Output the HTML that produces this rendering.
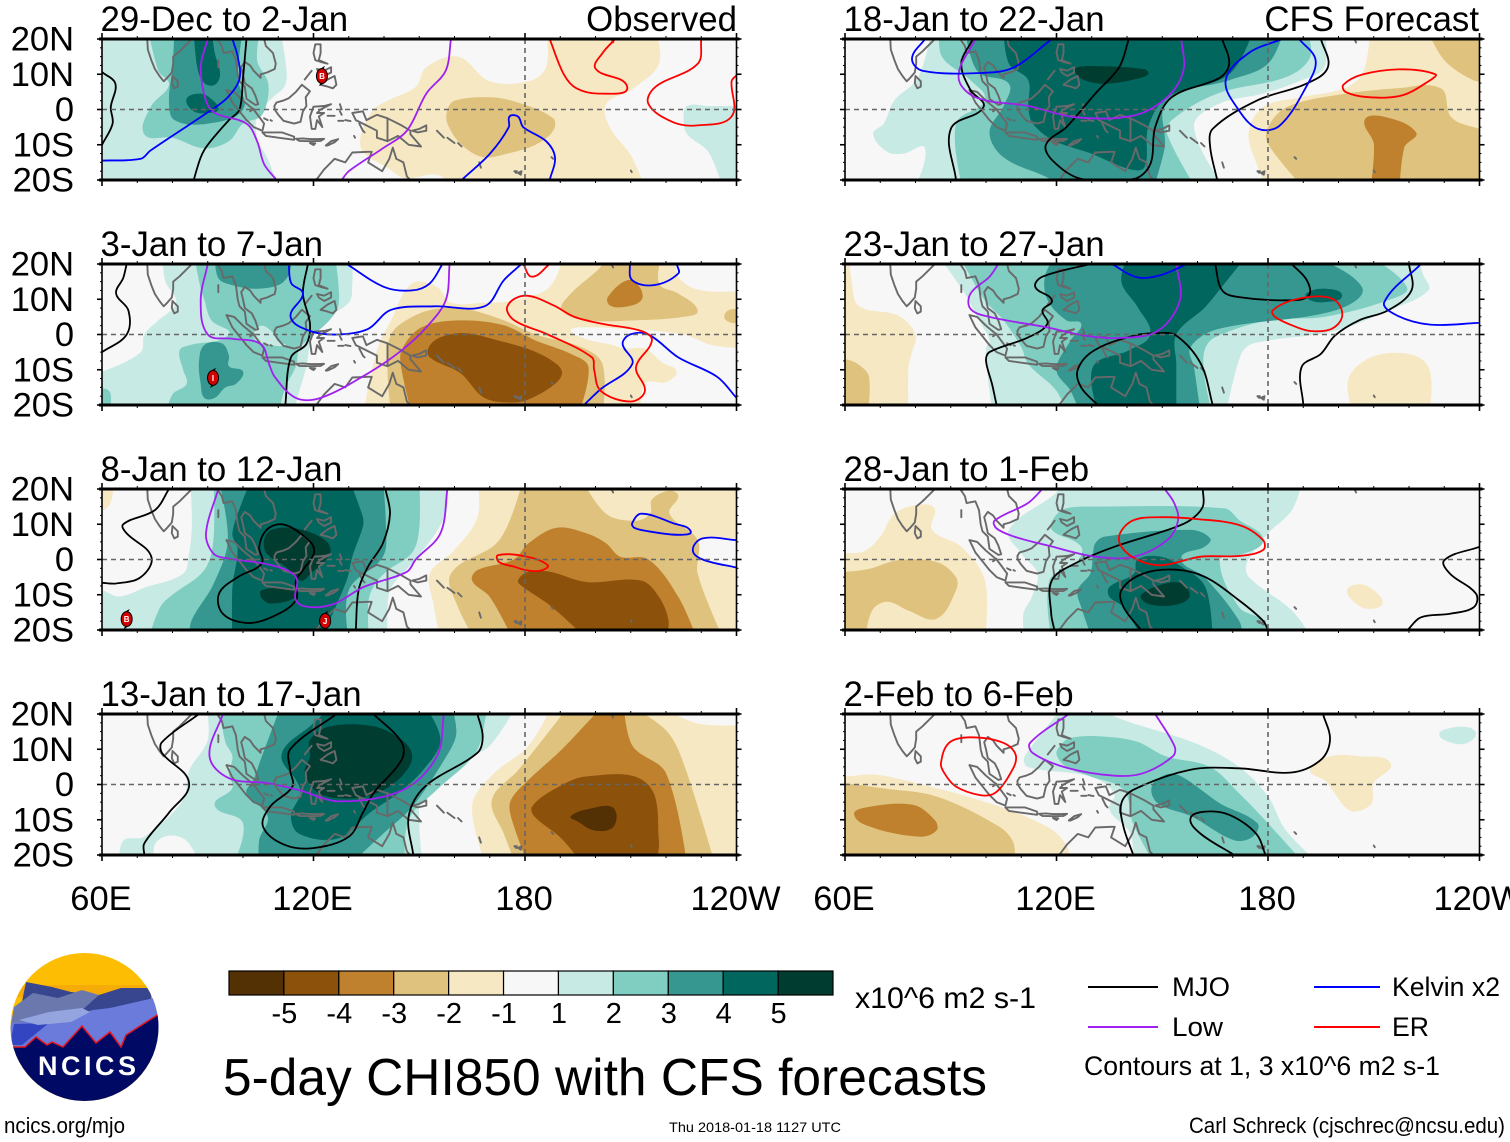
<!DOCTYPE html>
<html><head><meta charset="utf-8"><title>5-day CHI850 with CFS forecasts</title>
<style>html,body{margin:0;padding:0;background:#fff}svg{display:block}text{font-family:"Liberation Sans",sans-serif;fill:#000}</style>
</head><body>
<svg id="chart" xmlns="http://www.w3.org/2000/svg" width="1510" height="1142" viewBox="0 0 1510 1142">
<rect width="1510" height="1142" fill="#fff"/>
<g id="panels"></g>
<g>
<clipPath id="logoClip"><circle cx="84.5" cy="1027" r="74"/></clipPath>
<g clip-path="url(#logoClip)">
<rect x="10" y="953" width="150" height="150" fill="#fdbd02"/>
<rect x="10" y="985" width="150" height="12" fill="#f6ac08"/>
<path d="M10 1060L26 982L52 987L71 992L99 995L121 988L150 988L160 1060Z" fill="#38458f"/>
<path d="M10 1030L14 1007L33 993L58 998L82 990L99 995L80 1012L30 1040Z" fill="#6b78ae"/>
<path d="M10 1045L11 1023L60 1020L93 1010L110 1008L154 998L160 1013V1060H10Z" fill="#6a7bdc"/>
<path d="M14 1024L49 1023L22 1045H10Z" fill="#3345c0"/>
<path d="M19 1020L49 1012L82 1008L90 1012L71 1022L38 1025Z" fill="#93a4de"/>
<path d="M8 1047L25 1047L36 1037L47 1045L52 1042L63 1047L82 1026L96 1043L110 1032L121 1047L126 1035L162 1012V1104H8Z" fill="#000a64" stroke="#e8141c" stroke-width="1.5"/>
<text x="38" y="1075" font-size="27" font-weight="bold" textLength="98" lengthAdjust="spacing" style="fill:#fff">NCICS</text>
</g></g>
<g id="colorbar"></g>
<text x="855" y="1008" font-size="30" textLength="181" lengthAdjust="spacingAndGlyphs">x10^6 m2 s-1</text>
<g>
<line x1="1088" x2="1158" y1="987" y2="987" stroke="#000" stroke-width="2"/>
<text x="1172" y="996" font-size="27" textLength="58" lengthAdjust="spacingAndGlyphs">MJO</text>
<line x1="1088" x2="1158" y1="1027" y2="1027" stroke="#a020f0" stroke-width="2"/>
<text x="1172" y="1036" font-size="27" textLength="51" lengthAdjust="spacingAndGlyphs">Low</text>
<line x1="1314" x2="1380" y1="987" y2="987" stroke="#0000ff" stroke-width="2"/>
<text x="1392" y="996" font-size="27" textLength="108" lengthAdjust="spacingAndGlyphs">Kelvin x2</text>
<line x1="1314" x2="1380" y1="1027" y2="1027" stroke="#ff0000" stroke-width="2"/>
<text x="1392" y="1036" font-size="27" textLength="37" lengthAdjust="spacingAndGlyphs">ER</text>
<text x="1084" y="1075" font-size="27" textLength="356" lengthAdjust="spacingAndGlyphs">Contours at 1, 3 x10^6 m2 s-1</text>
</g>
<text x="223" y="1095" font-size="51.5" textLength="764" lengthAdjust="spacingAndGlyphs">5-day CHI850 with CFS forecasts</text>
<text x="4" y="1133" font-size="22" textLength="121" lengthAdjust="spacingAndGlyphs">ncics.org/mjo</text>
<text x="669" y="1132" font-size="14" textLength="172" lengthAdjust="spacingAndGlyphs">Thu 2018-01-18 1127 UTC</text>
<text x="1189" y="1133" font-size="22" textLength="316" lengthAdjust="spacingAndGlyphs">Carl Schreck (cjschrec@ncsu.edu)</text>
</svg>
<script>
const panelTitles=["29-Dec to 2-Jan","3-Jan to 7-Jan","8-Jan to 12-Jan","13-Jan to 17-Jan","18-Jan to 22-Jan","23-Jan to 27-Jan","28-Jan to 1-Feb","2-Feb to 6-Feb"];
const xTickLabels=["60E","120E","180","120W"];
const xTickValues=[60,120,180,240];
const yTickLabels=["20N","10N","0","10S","20S"];
const yTickValues=[20,10,0,-10,-20];
const barLabels=["-5","-4","-3","-2","-1","1","2","3","4","5"];
const levelKeys=[-5,-4,-3,-2,-1,0,1,2,3,4,5];
const levelColors=["#543005","#8c510a","#bf812d","#dfc27d","#f6e8c3","#f7f7f7","#c7eae5","#80cdc1","#35978f","#01665e","#003c30"];

// shaded polygons: [level, [lon,lat,lon,lat,...]]
const p1Shade=[
[1,[55,25,110,25,112,14,112,7,108,3,104,-2,104,-8,107,-14,110,-22,55,-22]],
[1,[225,-3,226,1,232,1,243,1,243,-22,236,-22,232,-12,226,-7]],
[2,[73,23,76,11,79,7,74,1,72,-7,80,-8,89,-11,96,-9,100,-4,105,-2,107,3,107,8,104,14,105,23]],
[3,[80.6,23,80,12,79,2.5,80.6,-3,90,-4,100,0,98.5,9,100,23]],
[4,[86,23,87,12,89,7.5,92,7,93.5,10,92,16,91,23]],
[4,[84,3,88,4.5,91,3,93,0,90,-1,86,-0.5]],
[-1,[133.5,-7,134,-12,141,-16.5,146,-19.5,155,-18.5,160,-22,214,-22,210,-13,204,-5,203,1.6,210,5.5,218,13,217,23,186,23,186,12,181,8,170,8,161,15,152,12,149,6.4,141,2.5,137,0]],
[-2,[158,0,160,2.5,170,3.5,178,2,188,-2.5,188,-6,183,-10,175,-12.5,168,-13.5,162,-10,158,-4]]];
const p1MJO=[[60,10.6,63.8,7.3,62.5,0.7,63,-4,60,-10],[101,20,100,9,99,0,96,-3,90,-10,88,-13.6,86,-20]];
const p1Low=[[90,20,88,12,89.5,2.5,92,-1,101,-4,104,-9,106,-15.5,109.5,-20],[159,20,157.5,11,152,4.5,146.5,-6,139.7,-11,130,-17.5,128,-20]];
const p1Kelvin=[[60,-14.5,71,-14,73.7,-11.7,90,-0.8,95.7,3.5,99,8.7,98.5,15,97,20],[162,-20,170,-12.6,175.4,-5,175.6,-2,178,-2,179.5,-5,186,-9,188.5,-13.6,187,-20]];
const p1ER=[[187,20,191,10,194.6,6,201.5,4.5,209,6.4,200,11.6,202,16,205.6,20],[230,20,229,13,217,6.4,215,1.6,222,-3.6,229,-4.5,238.6,-2,238.6,8,240,9.7]];

const p2Shade=[
[1,[77,23,78,15,81,9,76,4,72,0,71,-5,60,-10.5,55,-11,55,-23,114,-23,116,-16,118,-9,119,-3,121,3,130,9,131,14,131,23]],
[2,[86,23,88,13,89,10,91,4,96,0,85,-3,82,-4.5,83,-10,84,-14,80,-17,78,-23,110,-23,112,-15,115,-9,116,-4,119,-1,124.5,4,127,8,127,15,126,23]],
[2,[59,-16,62,-16,62.5,-20,62,-23,59,-23]],
[1,[103,0,105,2.5,108,1,110,-2,112,-3,108,-3,104,-2]],
[3,[92,23,93,16,97,14,103,13,110,14,113,17,114,23]],
[3,[89,-3,94,-2.5,96,-6,96,-9,100,-10.5,98,-14,95,-15,92,-18,89,-18,88,-14,87.5,-8]],
[-1,[134,-23,138,-4.5,142,4,148,14.5,155,13.5,159,9,168,9,177,9.7,187,13.5,191,23,223,23,223.5,16.4,230,12.5,243,12.5,243,-4,233,-3,225,0,210,1.5,195,2,193,1,198,-1.5,205,-3,208,-4,214,-4,219,-8,223,-10.5,220,-13.5,214,-14,213,-23]],
[-2,[142,-23,141,-10,142,0,148,5,155,7.3,163,7.3,174,4,183,0,196,-3.6,202,-8.4,202,-23]],
[-2,[190.5,6.8,193,11.6,201.5,19.2,203,23,219,23,218,14.5,223.5,11.6,229,6.8,225,5,211,4,198.7,4]],
[-2,[236.5,5,238,7,243,7,243,3,238,3.5]],
[-3,[145,-4.5,150.6,2,161.7,4,174,2.6,183,-1.7,193,-5.5,198,-9.3,195,-23,148,-23,145,-10]],
[-3,[203.5,10.6,209,15.4,212.5,13.5,213,9.7,208,7.8,204,8.3]],
[-4,[152.7,-3.6,156,-0.8,163,0.4,172.4,-1.7,182,-4.5,189,-8.4,190.5,-11,188.5,-14,182,-18,177,-19.3,168.5,-18,161.7,-11,153,-6.5]]];
const p2MJO=[[67,20,66,16,64,11.6,67.5,6.8,67,0,60,-5],[118.4,20,117,11.6,119,3,118,-2.7,113.6,-6.5,112,-20]];
const p2Low=[[90,20,88,9.7,90,0,97,-1.2,105,-2.7,107.4,-8.4,109,-12,115,-18,122,-18,135.5,-11,145,-4.5,152,2,157.5,9.7,158.6,20]];
const p2Kelvin=[[113,19.5,113.7,14.5,117,11.6,113.5,5,119,1,127,0,135.5,1.6,142,7,154.5,8,168.5,8,174,15.4,179,20],[129.4,20,140,13.5,148,12.5,153,14.5,156.6,20],[209.7,20,210.4,15.4,216.6,14,223.5,17.3,223,20],[196.7,-20,201.5,-15.5,210.4,-8.4,207.7,-2.7,209.8,0,215,0,223.5,-6.5,234.5,-12,240,-18]];
const p2ER=[[179.5,20,182,16.4,187,20],[175,8,180,11,188,8.3,194,5,202,3,213,1,216,-1.7,211.5,-9.3,214,-16,210,-19,201.5,-16,199.6,-10,199,-6.5,186.5,0,177,4,175,8]];

const p3Shade=[
[-1,[59,21,63,21,60,14]],
[1,[85,23,85.5,10,84.7,1.7,83,-4,72,-8,65,-10.5,60,-8.7,55,-8,55,-23,141,-23,141,-14,142,-8,148,-1,155,8,158,15,158,23]],
[2,[91.6,23,91.6,5.5,89,-3,80,-10,76.5,-13.5,73,-23,136,-23,135.5,-18,136,-10,140,-4,148,2,150,9,150,23]],
[3,[93,23,95.7,5.5,91.6,-7,85.4,-17.3,84.7,-23,130,-23,130,-8.7,139.7,0.8,140.5,10,139.7,23]],
[4,[102.6,23,100,17,97,7.4,98.5,2.7,97,-7.8,97,-23,122,-23,129.4,-6,131,0.8,134,9.3,134,12,130,23]],
[5,[108,8.4,115,8.8,123.3,5.5,124.7,1.7,119.2,-4,116.3,-6,112,-2,106.7,1.7,106,5.5]],
[5,[105.3,-8.7,113.6,-8.3,115,-10.6,108,-12.5,105.3,-11]],
[-1,[166.5,23,166.5,12,160,2.7,153,-4,154,-12.5,156,-23,243,-23,243,23]],
[0,[227.6,2.7,230,5.7,243,5.7,243,-2.5,230,0]],
[-2,[179.5,23,172.7,5.5,159,-4,161,-13.5,166,-23,236.5,-23,229,-4,229,5.5,221,13,223.5,18,221,19.5,216,17,215.5,13,211.3,11,203,13,196,23]],
[-3,[189,9,181,4.6,176.8,0,166.5,-3,165,-6,170,-10.6,176.8,-23,229,-23,223.5,-10.6,215,0,207,0.8,203,4.6,197.5,7.4]],
[-4,[181,-3.5,187,-3.5,197.5,-6.4,213,-6,218,-10.6,220.7,-17.3,220,-23,198,-23,187.7,-13.5,179.5,-7.8,178,-6]]];
const p3MJO=[[79,20,75,14,66,10,67,7.4,74,0.8,71,-5,64,-6.8,60,-6.6],[104.6,3.6,106.7,8.4,111,10,116.3,7.4,120.2,2.7,117,-3,115,-6,115,-11.6,108,-16.4,101,-18,94.3,-15.4,93.2,-9.7,98.5,-5,105.3,-1.1,104.6,3.6],[140.4,20,141.7,13,139.7,4.6,135.5,-2,132.8,-8.7,132,-20]];
const p3Low=[[93,20,89.5,7.4,91.6,1.7,95.7,0.3,108,-1.6,115,-5,115,-11.6,119,-13.5,126,-12.5,134.2,-7.8,146.5,-3.5,149,0,156,7.4,158,20]];
const p3Kelvin=[[210.4,10.3,213,13,222,10.3,227,8,223.5,7,215,8,211,9,210.4,10.3],[240,5.5,230.4,6,227.6,2.7,230.4,0,240,-2.3]];
const p3ER=[[172.3,1.2,179.5,1,186.4,-1.6,184.3,-3.2,180.2,-3,176.8,-2,172.6,-0.7,172.3,1.2]];

const p4Shade=[
[1,[89.5,23,90,12.7,84.7,4,83,-4.4,72,-14.8,66,-16,65,-23,151,-23,150,-11,151,-2.5,163,7,170,11,178,23]],
[0,[75,-23,75,-17,79,-14.5,84,-16,88,-23]],
[2,[93,23,95,12,97,8,96,3,97,-1,92,-6,100,-11,97,-23,146,-23,147,-10,155,-1.5,166,9,169,20,169,23]],
[3,[111,23,105,7,103,1.3,101,-2.5,107,-9,104.6,-15.8,104.6,-23,130,-23,139.7,-14,148,-6.3,157.7,8,160.5,14.5,159,23]],
[4,[112.2,11,119,16.5,126,23,151,23,156,12.7,151,4,144,-2.5,136,-8,127,-15.3,116,-14,113.6,-9,116.3,-2.5,115,1.3,111,7]],
[5,[119,12.7,124.7,16.5,137,16.5,145,12.7,148,8,145,2.3,138,-2.5,130,-4,121.5,-2.5,117.5,3.2,119,8]],
[-1,[169,-23,165,-6,171,3,181,11,188,23,217,23,229,17.3,243,17,243,-23]],
[-2,[170.6,-4.4,178,4,186,14,193,23,208.6,23,220,15.4,225,6,234,-23,177.5,-23,174,-14]],
[-3,[176,-4.4,181,1.3,190.5,10,199,19,203,23,208,23,210.5,11,220,3.2,226,-23,181,-23,176,-9]],
[-4,[182,-6.3,188,-1.5,197.5,2.3,214.5,0.4,218,-16,217,-23,196.7,-23,190,-15,182.6,-9]],
[-5,[193,-9,198.7,-6.8,204.5,-6.3,206,-9,204.5,-12.5,199.5,-13,195,-10.5]]];
const p4MJO=[[87.5,20,77,12,77,9,84.7,0.4,79,-8,72,-16.7,72,-20],[126.5,20,113.4,10,113.4,4,114,-0.6,107.7,-6.3,105.7,-12,112,-17.2,120.2,-18,130,-14.8,134,-8,137,-2.5,145,7,145,12,137,20],[166.5,20,168,13.7,166.5,9,151.6,-0.6,147,-9,148.3,-20]];
const p4Low=[[94.3,20,90.5,8,96,1.8,107,0.4,115.5,-1.5,127.7,-4.8,145.5,-1.5,155,8,157,20]];
const p4Kelvin=[];
const p4ER=[];

const p5Shade=[
[1,[84.7,23,80.7,9,74,2.6,71,-4,68,-7,72,-12,76.6,-12.5,82.7,-11,79.3,-23,168.4,-23,159,-5,166,1.6,178.5,4.5,189.5,8.3,196,12,196,23]],
[2,[86.8,23,87.5,15,95.6,8.3,99.7,2.6,91.5,-4,93.6,-23,160,-23,151.4,-7,152.7,-3,165.6,4.5,185.4,9.3,192,15,190.8,23]],
[3,[94,23,97.7,10.7,106.5,7.3,105,1,101,-6.5,105,-13.6,117.4,-19.3,122.8,-23,147.3,-23,150.7,-10.7,151.4,2.6,169,8.3,180,13,184.7,23]],
[4,[105,23,106.5,13,112,8.3,112,0.7,113.3,-4,119,-8.7,129.6,-12.4,141,-17,145,-16.3,146,-5,151.4,3.5,169,10,176,23]],
[5,[125.5,11.8,131,12.3,145,11.4,146,10,142,8.5,133.7,7.3,128,8.3,125.5,10.2]],
[-1,[209,23,207,10.7,201.7,6,189.5,3.5,178.6,0.7,174.5,-6.7,177,-16,180,-23,243,-23,243,23]],
[-2,[225,23,230,14,238.3,8.3,243,8,243,23]],
[-2,[180,-5,185.4,0.7,198.8,4,216.6,6,229,6,232,-2.2,240,-5.5,243,-6,243,-23,190.8,-23,180,-9.8]],
[-3,[207.4,-3,212.6,-2,222,-6.5,218.7,-10.7,217.3,-23,209,-23,210,-9.8]]];
const p5MJO=[[96.3,20,93,13,95.6,5.5,99.3,0.7,90,-5.5,91.5,-20],[140.5,20,137.8,12,131,4.5,122.8,-5,117,-10,119,-14.6,127,-19.7,142,-19.7,146.6,-15.5,148,-5,152.7,3.5,166.3,9,169,13,167,20],[195,20,197,12,190.8,7.3,177,2.6,164.3,-5.5,163.6,-10.7,165.6,-20]];
const p5Low=[[97,20,92.2,9.3,97,3.5,112,1,125.5,-2.2,142,-1.7,151.4,3.5,156,11,155.4,20]];
const p5Kelvin=[[82.7,20,79,14.5,82,11,99.7,10.4,108,12,118.7,20],[184,20,174.5,16,168,8.3,171.8,-0.3,177.2,-5.5,183.3,-4.6,190.8,6.4,193.5,14,188.8,20]];
const p5ER=[[201.4,7,207,10,218,11.4,227.5,10,226,8.3,218,4,208.5,3.5,202,5,201.4,7]];

const p6Shade=[
[-1,[55,23,61,23,62,14.5,64,8,75,5.4,80,0,79,-5,78,-9.3,78,-23,55,-23]],
[-2,[55,-7,60,-7,63.7,-8.4,66.8,-12,66.4,-23,55,-23]],
[-1,[203,-12,212.6,-5.5,225,-8.4,225.5,-23,204.4,-23]],
[1,[86,23,94,11.6,98,4,101,-1.7,100,-4,100.5,-12,102,-23,168,-23,172.4,-5.5,176,-2.5,199,1,214,6.8,225.5,12.5,224,17,222,23]],
[2,[92,23,99.7,9.7,105,4,110,-3.6,112,-8.4,120,-16,123,-23,164.3,-23,162,-12,162,-4.5,165,-0.8,180,4,196,5,214,9.7,219.4,13.5,207,23]],
[3,[120,23,116.7,16.4,117.5,9.7,122.8,4,127,3,124,-1.7,120,-10,124,-16,127,-23,161,-23,159,-9.3,158,-3.6,166,1.6,199,6.8,206.6,13.5,189.5,23]],
[4,[140.5,23,138.4,15,143,7.8,146.6,0,140.5,-4.5,130.3,-9.3,132.3,-23,154,-23,154,-8.4,154,0,162.2,7.8,167.7,14.5,174.5,23]],
[4,[190.8,11.6,196.2,13,201,11,196,9.2,192,9.7]]];
const p6MJO=[[129.6,20,116,16.4,114,13.5,118.7,9.7,116,6.8,117.4,3,112,-0.8,101,-5,100,-7.4,101.7,-14,103,-20],[131.7,-20,127,-15,126,-10,130.7,-4.5,142,-0.3,149,0.4,154,-0.3,161,-8.4,164.3,-20],[165,20,167,12.5,171.8,10.6,185.4,9.7,191.5,11,191,15.4,186.7,20],[220,20,220.7,12.5,214,6.8,205.8,4,199,-0.3,195,-5.5,189.5,-9.3,190,-20]];
const p6Low=[[103.5,20,101,16.4,95.6,11.6,95.6,7.3,101,5,117.4,2,128,-0.3,137.8,-1,148.7,1,155,9.7,154,20]];
const p6Kelvin=[[135.7,20,143,16.2,150,17,157,20],[223.4,20,213,9.2,216.6,5.4,226,2.8,239.8,3.3]];
const p6ER=[[181.3,6.8,186.8,9.7,195,10.8,199.6,9.2,201,5,198,1.6,192,1,186.8,2.6,182,5,181.3,6.8]];

const p7Shade=[
[-1,[55,2.2,65,2.2,70,6.5,74,13,80.7,15.5,85.4,14.5,84.7,8.4,93,3.6,99.7,-5.9,99.7,-23,55,-23]],
[-2,[55,-3.5,60,-3.5,67,-2.6,75,-0.2,86,-0.7,91.5,-5,91.5,-8.7,86,-16.8,78,-14.5,72,-12,67.7,-14.5,65.7,-23,55,-23]],
[-1,[202.4,-8.7,206,-7,210,-8.7,212.5,-12.5,208.6,-14,205,-12.5]],
[1,[122,23,120,19,106.5,8.4,110,1.7,114.6,-4,113,-10.6,110.6,-15.4,111,-23,193,-23,186.8,-14.5,174.6,-5,174,-1,180,7.4,186.8,14,190,23]],
[2,[122.8,14.5,131,15,167.7,14.5,171.8,11.2,178.6,5.5,171.8,1.2,166.3,-0.2,171.8,-13.5,178.6,-17.4,180,-23,118.7,-23,118,-5.9,125.5,-1,127,3.6,118.7,8.4,119.4,12]],
[3,[131,4.6,133.7,6.5,158,8.4,163.6,6,162,3.6,155.4,0.3,162,-5,171.8,-17.4,173,-23,130.3,-23,127,-13.5,126,-8.7,129.6,-4,130.3,0.8]],
[4,[135,-7.8,142,-4,143,0,149.7,0.8,155.4,-2,162.2,-7.8,164.3,-23,144.6,-23,139,-13.5,135,-10.6]],
[5,[144,-10,153,-6.4,156.8,-7.8,157.5,-11,153,-13,146,-12.6]]];
const p7MJO=[[161.5,20,161.5,15,158,11.2,152.7,8.8,136.4,3.6,125.5,-1,118.7,-5.9,118.5,-15.4,119.4,-20],[144,-20,139,-13.5,138.4,-8.7,144.6,-4,154,-2.9,162.2,-5,171.8,-11.6,178.6,-17.4,180,-20],[240,3.6,230,-0.2,231.6,-4,239,-9.7,238.4,-13.5,231.6,-15.4,223.4,-16.4,219.6,-20]];
const p7Low=[[116,20,111.9,16,102.4,11,103,8.8,108,6.5,117.4,4,131,0.8,142,0.8,151.4,5.5,154.5,11.2,153.4,16,150.7,20]];
const p7Kelvin=[];
const p7ER=[[138,7.4,142,11.2,150,12,159.5,11.5,171.8,9.8,178.6,5.5,178.6,2.7,171.8,1,160.9,0.8,150,-1.6,143.2,-0.2,138.4,3.6,138,7.4]];

const p8Shade=[
[-1,[55,2.3,60,2.3,68.4,2.8,76.6,1.3,101,-5.3,117.4,-12,122.8,-17.2,124,-23,55,-23]],
[-2,[55,0.4,60,0.4,70,-1,86,-3.4,103.8,-12,107.8,-16.6,108,-23,55,-23]],
[-3,[62.6,-8.6,67,-6.3,79.4,-5.8,85.4,-10,86,-13,81.4,-14.8,68.4,-12.4]],
[-1,[192,4.2,197.8,8,206,8,214.8,6,210,0.4,209.4,-5.3,204.6,-7.7,201.8,-6.3,196.4,0.9]],
[1,[122.8,23,111,8,111.8,5,129.5,2.3,136.4,-2.5,135,-7.2,141,-14,141.6,-23,195,-23,185,-12.9,180,-3.4,171.8,5,159.4,11.7,139,18.3,128,23]],
[1,[228.6,14.2,231.6,16,237,16.2,239,14.2,236,11.6,231.6,12]],
[2,[123.8,13.2,131.8,13.7,142.7,12.2,151,8,163.5,5,171.8,-2.5,180,-11,190.8,-23,148,-23,141.7,-11,139,-1.5,129.6,2.3,122.8,5,120,8.6,121.4,11.4]],
[3,[147,-0.6,151,2.8,155.4,2.3,166.3,-5.3,177,-11,175.7,-14.8,170.4,-15.8,158.2,-9,148.7,-5.3]]];
const p8MJO=[[195.6,20,197.6,12.7,195,7,186.7,3.4,171.8,4.6,158,4.2,141.8,-1.5,138.4,-5.3,139,-12,141.8,-20],[170.4,-20,160.8,-13.9,158,-9.6,162.2,-7.7,169,-8.6,176.6,-13.9,179.3,-20]];
const p8Low=[[123.5,20,112.5,11.8,113.3,8.9,123,4.7,136.4,2.5,144.6,3.2,153,8,153.5,10.8,148,20]];
const p8Kelvin=[];
const p8ER=[[87.2,6,89.5,11.8,95.6,13.4,105,11.8,108.5,8,106.4,2.3,102.4,-2.5,98.3,-3,91.5,-0.6,88.2,3.2,87.2,6]];

const panelShades=[p1Shade,p2Shade,p3Shade,p4Shade,p5Shade,p6Shade,p7Shade,p8Shade];
const panelMJO=[p1MJO,p2MJO,p3MJO,p4MJO,p5MJO,p6MJO,p7MJO,p8MJO];
const panelLow=[p1Low,p2Low,p3Low,p4Low,p5Low,p6Low,p7Low,p8Low];
const panelKelvin=[p1Kelvin,p2Kelvin,p3Kelvin,p4Kelvin,p5Kelvin,p6Kelvin,p7Kelvin,p8Kelvin];
const panelER=[p1ER,p2ER,p3ER,p4ER,p5ER,p6ER,p7ER,p8ER];

// tropical cyclones: panel index, longitude, latitude, letter
const cyclonePanels=[0,1,2,2];
const cycloneLons=[122.4,91.5,67,123.3];
const cycloneLats=[9.5,-12.3,-16.9,-17.4];
const cycloneLetters=["B","I","B","J"];

// coastlines in lon,lat
const coastlines=[
[72.8,21,73,17,74,14,75,11.5,76.3,9.5,77.5,8,78.5,9,79.8,10.5,80.2,13,80.2,15,82,16.5,85,19.5,86.5,21],
[80,9.5,81.5,8,81.5,6.5,80.5,6,79.8,7.5,80,9.5],
[92,21,94,18,94.5,16,97,16.5,98,14,98.5,10,99,8,100.5,6.5,101,3,103.5,1.3,104.3,1.5,103.5,4,102.5,6,100.5,7.5,100,10,99.5,12,100.5,13.5,102,12.5,103,11,105,9,105,10,106.8,10.5,109,11.5,109.3,13,108.5,16,106.5,18,106,20,107,21],
[95.3,5.5,97.5,5,100,2.5,103,0,104.5,-2,106,-4,105.5,-6,103,-5,101,-3,99,-0.5,97,2,95.3,5.5],
[105.5,-6.5,108,-6.5,111,-6.5,114.5,-7.7,114.5,-8.6,110,-8,106.5,-7.5,105.5,-6.5],
[115,-8.3,117,-8.2,119,-8.4,121,-8.4,123,-8.3,122,-8.9,119,-9,116,-8.9,115,-8.3],
[119,-9.5,120.5,-9.6,120,-10.1,119,-9.5],
[123.5,-10.2,125,-9,127,-8.4,126,-9.3,124,-10.2,123.5,-10.2],
[108.9,1,109.5,2,111.3,2.5,113,3.2,115,5,116.7,7,119,5.2,117.8,3.5,118,1,117,-0.5,116.3,-3.5,114.5,-4,111.5,-3.2,110,-1.5,109,0,108.9,1],
[119.5,-5.5,119,-2,120,0.8,123,1,125,1.5,122,0,121,-1,123,-1,121.5,-2,122.5,-5,121,-3,120.5,-5.5,119.5,-5.5],
[120.5,18.5,122,18.5,122,16,121.5,14,124,13,122,13.5,120.5,14,120,16,120.5,18.5],
[122,7,124,8.5,126,9.5,126.5,7,125.5,6,124,6.5,122,7],
[121,11.5,123,11,125,12,125,10.5,123,9.5,121.5,10.5,121,11.5],
[117.5,8.5,119.5,11],
[131,-1,134,-0.5,135,-3,138,-1.5,141,-2.5,145,-4.5,147.5,-6,147.5,-7,150.5,-10.5,147,-10,144,-7.5,141,-9,138,-8,138,-6,134,-4,132,-3,131,-1],
[141,-2.5,141,-9],
[113.5,-22,114,-22,121,-19.7,123,-17,126,-14,129,-15,131,-12.2,135.5,-12,136.5,-12,135.5,-15,139.5,-17.5,141.5,-14,142.5,-10.8,143.5,-14,145.5,-15,146.5,-19,149,-21.5],
[148,-6,150,-5.5,152,-4.5,152,-6,149.5,-6.5,148,-6],
[155,-6,157,-8],[158,-8,160,-9.5],[161,-9.5,162,-10.5],
[167,-15,167.5,-16.5],[178,-18,179,-17.5,178.8,-18.5,178,-18],[177,-17.5,177.7,-17.5,177.5,-18,177,-17.5],
[127.5,1.5,128,0],[127.5,-0.5,128,-1.5],[127,-3.2,128.5,-3.2],[129,-3,130.5,-3.3],[124,-1.8,126,-1.8],
[133,-4,134,-6],[131.5,-7.5,131.8,-8],[134,-6,134.5,-6.5],
[102,-0.5,103,0.2],[106,-2.5,107,-3],[107.8,-3,108.2,-3.2],
[93,14,93,12],[204.5,20,205,19],[210,-17.3,210.3,-17.8],[187.5,-13.5,188,-14]
];

const svgNS='http://www.w3.org/2000/svg';
const chartX0=[102,102,102,102,845,845,845,845];
const chartY0=[39,264,489,714,39,264,489,714];
const plotW=634.5,plotH=141;
function mk(parent,tag,attrs){
  const el=document.createElementNS(svgNS,tag);
  for(const k in attrs)el.setAttribute(k,attrs[k]);
  parent.appendChild(el);
  return el;
}
function xScale(i,lon){return chartX0[i]+(lon-60)*plotW/180;}
function yScale(i,lat){return chartY0[i]+(20-lat)*plotH/40;}
function toPts(i,arr){
  const o=[];
  for(let k=0;k+1<arr.length;k+=2){
    const off=Math.abs(arr[k+1])>=21.5||arr[k]<=56||arr[k]>=242;
    o.push([xScale(i,arr[k]),yScale(i,arr[k+1]),off]);
  }
  return o;
}
function smoothPath(p,closed){
  const n=p.length;
  if(closed&&n>2&&p[0][0]===p[n-1][0]&&p[0][1]===p[n-1][1])p=p.slice(0,n-1);
  const m=p.length;
  const g=k=>closed?p[(k+m)%m]:p[Math.max(0,Math.min(m-1,k))];
  const tan=k=>{
    const a=g(k-1),c=g(k+1),b=g(k);
    if(b[2])return [0,0];
    const dx=c[0]-a[0],dy=c[1]-a[1],len=Math.hypot(dx,dy)||1;
    return [dx/len,dy/len];
  };
  let d='M'+p[0][0].toFixed(1)+' '+p[0][1].toFixed(1);
  const segs=closed?m:m-1;
  for(let k=0;k<segs;k++){
    const b=g(k),c=g(k+1),t1=tan(k),t2=tan(k+1);
    const s=Math.hypot(c[0]-b[0],c[1]-b[1])/3;
    d+='C'+(b[0]+t1[0]*s).toFixed(1)+' '+(b[1]+t1[1]*s).toFixed(1)+' '+(c[0]-t2[0]*s).toFixed(1)+' '+(c[1]-t2[1]*s).toFixed(1)+' '+c[0].toFixed(1)+' '+c[1].toFixed(1);
  }
  return d+(closed?'Z':'');
}
function levelColor(l){return levelColors[levelKeys.indexOf(l)];}
function isClosed(a){return a.length>4&&a[0]===a[a.length-2]&&a[1]===a[a.length-1];}

const root=document.getElementById('panels');
const defs=mk(root,'defs',{});
function drawContours(g,i,sets,color,name){
  sets.forEach(arr=>{
    const pts=toPts(i,arr);
    const el=mk(g,'path',{d:smoothPath(pts,isClosed(arr)),fill:'none',stroke:color,'stroke-width':1.8});
    
    
  });
}
panelTitles.forEach((title,i)=>{
  const x0=chartX0[i],y0=chartY0[i];
  const cp=mk(defs,'clipPath',{id:'clip'+i});
  mk(cp,'rect',{x:x0,y:y0,width:plotW,height:plotH});
  const group=mk(root,'g',{});
  
  
  const inner=mk(group,'g',{'clip-path':'url(#clip'+i+')'});
  const bg=mk(inner,'rect',{x:x0,y:y0,width:plotW,height:plotH,fill:levelColor(0)});
  
  
  panelShades[i].forEach(s=>{
    const el=mk(inner,'path',{d:smoothPath(toPts(i,s[1]),true),fill:levelColor(s[0])});
    
    
  });
  coastlines.forEach(c=>{
    const d=toPts(i,c).map((p,k)=>(k?'L':'M')+p[0].toFixed(1)+' '+p[1].toFixed(1)).join('');
    const el=mk(inner,'path',{d:d,fill:'none',stroke:'#696969','stroke-width':1.9,'stroke-linejoin':'round','stroke-linecap':'round'});
    
    
  });
  drawContours(inner,i,panelMJO[i],'#000','contour-mjo');
  drawContours(inner,i,panelLow[i],'#a020f0','contour-low');
  drawContours(inner,i,panelKelvin[i],'#0000ff','contour-kelvin');
  drawContours(inner,i,panelER[i],'#ff0000','contour-er');
  const eq=mk(inner,'line',{x1:x0,x2:x0+plotW,y1:yScale(i,0),y2:yScale(i,0),stroke:'#666','stroke-width':1.6,'stroke-dasharray':'5 4'});
  
  
  const dl=mk(inner,'line',{x1:xScale(i,180),x2:xScale(i,180),y1:y0,y2:y0+plotH,stroke:'#666','stroke-width':1.6,'stroke-dasharray':'5 4'});
  
  
  cyclonePanels.forEach((p,c)=>{
    if(p!==i)return;
    const cx=xScale(i,cycloneLons[c]),cy=yScale(i,cycloneLats[c]);
    const tc=mk(group,'g',{});
    
    
    mk(tc,'path',{d:`M${cx+3} ${cy-10}Q${cx-2} ${cy-8} ${cx-3} ${cy-4}L${cx+2} ${cy}L${cx-3} ${cy+10}Q${cx+2} ${cy+8} ${cx+3} ${cy+4}L${cx-2} ${cy}Z`,fill:'#000'});
    mk(tc,'ellipse',{cx:cx,cy:cy,rx:5.5,ry:7.5,fill:'#d40000',stroke:'#000','stroke-width':1});
    const t=mk(tc,'text',{x:cx,y:cy+3,'text-anchor':'middle','font-size':8,'font-weight':'bold',style:'fill:#fff'});
    t.textContent=cycloneLetters[c];
  });
  const ax=mk(group,'g',{stroke:'#000',fill:'none'});
  
  
  mk(ax,'line',{x1:x0-3,x2:x0+plotW+3,y1:y0,y2:y0,'stroke-width':3});
  mk(ax,'line',{x1:x0-3,x2:x0+plotW+3,y1:y0+plotH,y2:y0+plotH,'stroke-width':3});
  mk(ax,'line',{x1:x0,x2:x0,y1:y0,y2:y0+plotH,'stroke-width':1.6});
  mk(ax,'line',{x1:x0+plotW,x2:x0+plotW,y1:y0,y2:y0+plotH,'stroke-width':1.6});
  for(let lon=60;lon<=240;lon+=10){
    const major=xTickValues.includes(lon),l=major?6:3,px=xScale(i,lon);
    mk(ax,'line',{x1:px,x2:px,y1:y0-l,y2:y0,'stroke-width':major?1.6:1});
    mk(ax,'line',{x1:px,x2:px,y1:y0+plotH,y2:y0+plotH+l,'stroke-width':major?1.6:1});
  }
  for(let lat=-20;lat<=20;lat+=2.5){
    const major=yTickValues.includes(lat),l=major?5:2,py=yScale(i,lat);
    mk(ax,'line',{x1:x0-l,x2:x0,y1:py,y2:py,'stroke-width':major?1.6:1});
    mk(ax,'line',{x1:x0+plotW,x2:x0+plotW+l,y1:py,y2:py,'stroke-width':major?1.6:1});
  }
  const tt=mk(group,'text',{x:x0-1.5,y:y0-8,'font-size':34.8});
  
  
  tt.textContent=title;
  if(i<4){
    yTickValues.forEach((v,k)=>{
      const t=mk(group,'text',{x:74,y:yScale(i,v)+11.5,'text-anchor':'end','font-size':34.5});
      
      
      t.textContent=yTickLabels[k];
    });
  }
  if(i===3||i===7){
    xTickValues.forEach((v,k)=>{
      const t=mk(group,'text',{x:xScale(i,v)-1,y:910,'text-anchor':'middle','font-size':34.5});
      
      
      t.textContent=xTickLabels[k];
    });
  }
});
const obs=mk(root,'text',{x:737,y:31,'text-anchor':'end','font-size':34.8});


obs.textContent='Observed';
const fc=mk(root,'text',{x:1479,y:31,'text-anchor':'end','font-size':34.8});


fc.textContent='CFS Forecast';

// colorbar
const cb=document.getElementById('colorbar');
const barX0=229,barW=604,barY=971,barH=24,nBins=levelKeys.length;
function barX(k){return barX0+k*barW/nBins;}
levelKeys.forEach((l,k)=>{
  const r=mk(cb,'rect',{x:barX(k),y:barY,width:barW/nBins,height:barH,fill:levelColors[k],stroke:'#000','stroke-width':1.2});
  
  
});
barLabels.forEach((s,k)=>{
  const t=mk(cb,'text',{x:barX(k+1)+0.5,y:1023,'text-anchor':'middle','font-size':29});
  
  
  t.textContent=s;
});
</script>
</body></html>
